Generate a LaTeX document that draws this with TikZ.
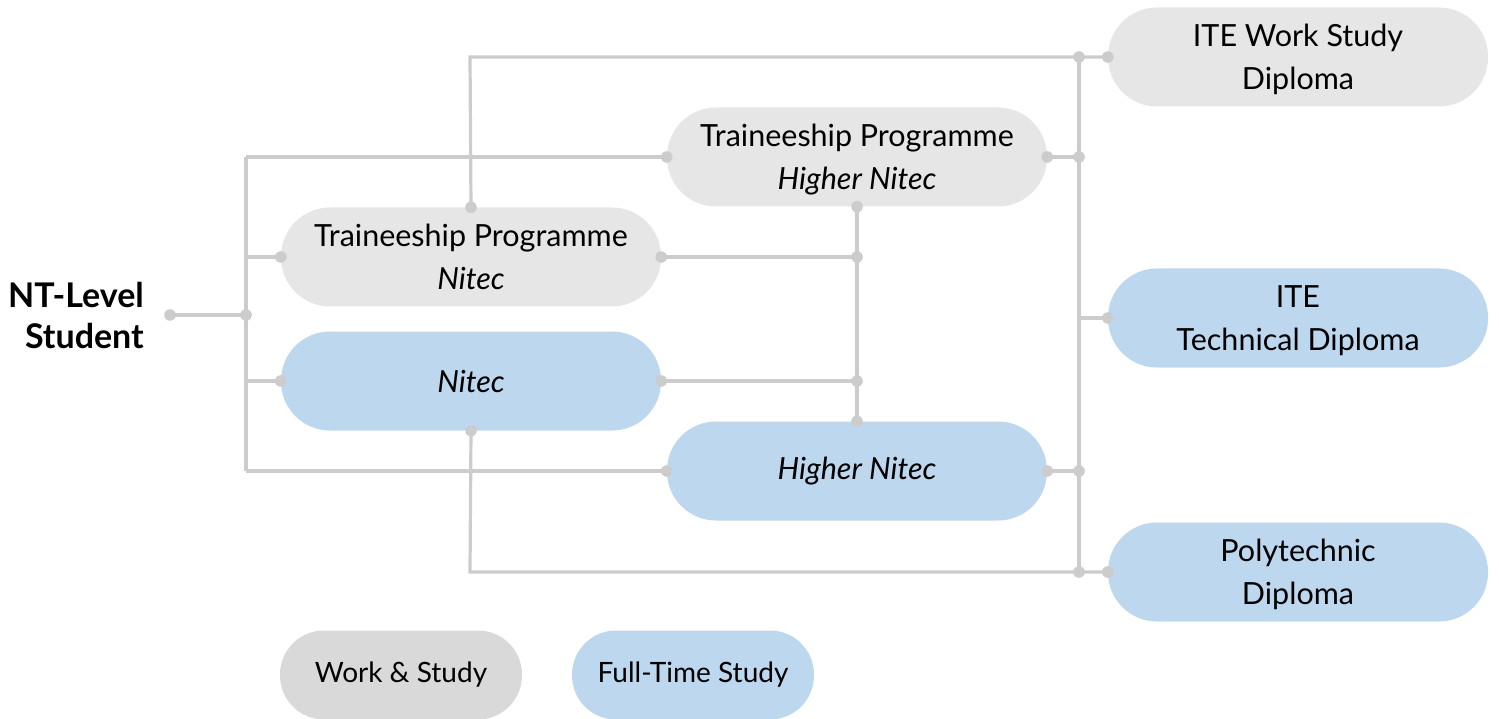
\documentclass[tikz,border=0pt]{standalone}
\usepackage{fontspec}
\setmainfont{Lato}
\definecolor{linegray}{HTML}{CDCCCD}
\definecolor{boxgray}{HTML}{E6E6E6}
\definecolor{leggray}{HTML}{D9D9D9}
\definecolor{boxblue}{HTML}{BDD7EE}
\tikzset{
  pill/.style={rectangle, rounded corners=49pt, minimum width=380pt, minimum height=99pt,
    align=center, inner sep=0pt, font=\fontsize{30.5}{43}\selectfont},
  twoline/.style={text depth=-2pt},
  gnode/.style={pill, fill=boxgray},
  bnode/.style={pill, fill=boxblue},
  legbox/.style={rectangle, rounded corners=44pt, minimum width=242pt, minimum height=89pt,
    align=center, inner sep=0pt, font=\fontsize{28}{32}\selectfont},
  conn/.style={draw=linegray, line width=3.2pt},
  dot/.style={fill=linegray, draw=none},
}
\newcommand{\jdot}[1]{\fill[dot] (#1) circle (5.8pt);}
\begin{document}
\begin{tikzpicture}[x=1pt,y=-1pt]
\useasboundingbox (0,0) rectangle (1499,719);
% nodes
\node[gnode, twoline] (iws) at (1298,57) {ITE Work Study\\Diploma};
\node[gnode, twoline] (thn) at (857,157) {Traineeship Programme\\\textit{Higher Nitec}};
\node[gnode, twoline] (tn) at (471,257) {Traineeship Programme\\\textit{Nitec}};
\node[bnode] (nit) at (471,381) {\textit{Nitec}};
\node[bnode] (hn) at (857,471) {\textit{Higher Nitec}};
\node[bnode, twoline] (itd) at (1298,318) {ITE\\Technical Diploma};
\node[bnode, twoline] (poly) at (1298,572) {Polytechnic\\Diploma};
\node[legbox, fill=leggray] (lws) at (401,675) {Work \& Study};
\node[legbox, fill=boxblue] (lft) at (693,675) {Full-Time Study};
\node[align=right, font=\fontsize{34}{41}\bfseries\selectfont, inner sep=0pt, anchor=east] (nt) at (144,316) {NT-Level\\Student};
% junction coordinates
\coordinate (s) at (170,315);
\coordinate (lj) at (246,315);
\coordinate (lt) at (246,157);
\coordinate (lb) at (246,471);
\coordinate (tj) at (470,57);
\coordinate (rt) at (1079,57);
\coordinate (rthn) at (1079,157);
\coordinate (ritd) at (1079,318);
\coordinate (rhn) at (1079,471);
\coordinate (rb) at (1079,572);
\coordinate (mtn) at (857,257);
\coordinate (mnit) at (857,381);
\coordinate (nb) at (470,572);
% connectors
\draw[conn] (s) -- (lj);
\draw[conn] (lt) -- (lb);
\draw[conn] (lt) -- (thn.west);
\draw[conn] (lj |- tn.west) -- (tn.west);
\draw[conn] (lj |- nit.west) -- (nit.west);
\draw[conn] (lb) -- (hn.west);
\draw[conn] (tn.north) -- (tj) -- (rt) -- (iws.west);
\draw[conn] (rt) -- (rb);
\draw[conn] (thn.east) -- (rthn);
\draw[conn] (ritd) -- (itd.west);
\draw[conn] (hn.east) -- (rhn);
\draw[conn] (thn.south) -- (hn.north);
\draw[conn] (tn.east) -- (mtn);
\draw[conn] (nit.east) -- (mnit);
\draw[conn] (nit.south) -- (nb) -- (rb) -- (poly.west);
% dots
\jdot{s}\jdot{lj}
\jdot{thn.west}\jdot{tn.west}\jdot{nit.west}\jdot{hn.west}
\jdot{tn.north}\jdot{rt}\jdot{iws.west}
\jdot{thn.east}\jdot{rthn}\jdot{itd.west}
\jdot{hn.east}\jdot{rhn}
\jdot{thn.south}\jdot{hn.north}\jdot{mtn}\jdot{mnit}
\jdot{tn.east}\jdot{nit.east}
\jdot{nit.south}\jdot{rb}\jdot{poly.west}
\end{tikzpicture}
\end{document}
